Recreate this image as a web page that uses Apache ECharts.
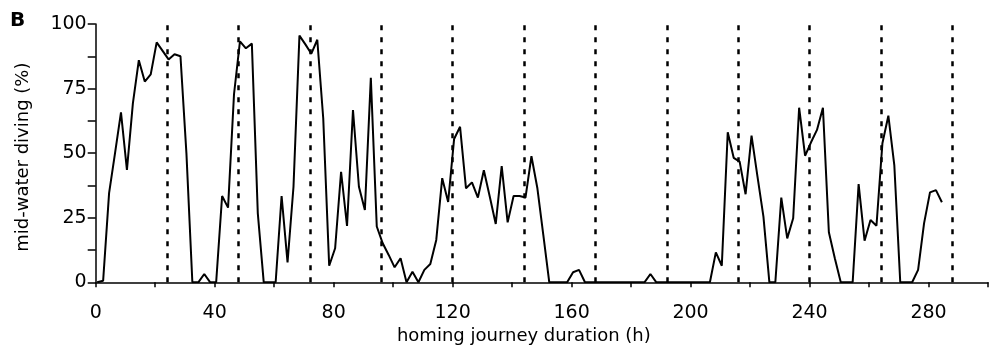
<!DOCTYPE html>
<html>
<head>
<meta charset="utf-8">
<script src="https://cdn.jsdelivr.net/npm/echarts@6/dist/echarts.min.js"></script>
<style>
html,body{margin:0;padding:0;background:#fff;}
#chart{width:991px;height:355px;}
</style>
</head>
<body>
<div id="chart"></div>
<script>
// Hours (bin midpoints) of the homing journey
var hours = [
  0.5, 2.5, 4.5, 6.5, 8.5, 10.5, 12.5, 14.5, 16.5, 18.5,
  20.5, 22.5, 24.5, 26.5, 28.5, 30.5, 32.5, 34.5, 36.5, 38.5,
  40.5, 42.5, 44.5, 46.5, 48.5, 50.5, 52.5, 54.5, 56.5, 58.5,
  60.5, 62.5, 64.5, 66.5, 68.5, 70.5, 72.5, 74.5, 76.5, 78.5,
  80.5, 82.5, 84.5, 86.5, 88.5, 90.5, 92.5, 94.5, 96.5, 98.5,
  100.5, 102.5, 104.5, 106.5, 108.5, 110.5, 112.5, 114.5, 116.5, 118.5,
  120.5, 122.5, 124.5, 126.5, 128.5, 130.5, 132.5, 134.5, 136.5, 138.5,
  140.5, 142.5, 144.5, 146.5, 148.5, 150.5, 152.5, 154.5, 156.5, 158.5,
  160.5, 162.5, 164.5, 166.5, 168.5, 170.5, 172.5, 174.5, 176.5, 178.5,
  180.5, 182.5, 184.5, 186.5, 188.5, 190.5, 192.5, 194.5, 196.5, 198.5,
  200.5, 202.5, 204.5, 206.5, 208.5, 210.5, 212.5, 214.5, 216.5, 218.5,
  220.5, 222.5, 224.5, 226.5, 228.5, 230.5, 232.5, 234.5, 236.5, 238.5,
  240.5, 242.5, 244.5, 246.5, 248.5, 250.5, 252.5, 254.5, 256.5, 258.5,
  260.5, 262.5, 264.5, 266.5, 268.5, 270.5, 272.5, 274.5, 276.5, 278.5,
  280.5, 282.5, 284.5
];
// Mid-water diving (%)
var diving = [
  0, 0.6, 34.5, 50, 65.8, 43.5, 69.3, 86, 77.7, 80.5,
  92.9, 89.6, 86.3, 88.3, 87.5, 50, 0, 0, 3.2, 0,
  0, 33.4, 28.9, 72.8, 93.3, 90.6, 92.4, 26.7, 0, 0,
  0, 33.4, 7.7, 37, 95.5, 92.1, 88.5, 93.9, 63.5, 6.4,
  13.2, 42.8, 21.8, 66.7, 37, 28, 79.2, 21.6, 15.1, 10.6,
  5.8, 9.3, 0, 4.1, 0, 4.8, 7.1, 16.4, 40.3, 31.1,
  55.5, 60.2, 36.4, 38.7, 32.8, 43.4, 33.1, 22.6, 45, 23.2,
  33.4, 33.4, 32.8, 48.8, 36.4, 18.3, 0, 0, 0, 0,
  3.9, 4.8, 0, 0, 0, 0, 0, 0, 0, 0,
  0, 0, 0, 3.2, 0, 0, 0, 0, 0, 0,
  0, 0, 0, 0, 11.6, 6.4, 58.1, 48.2, 46.7, 34.1,
  56.8, 40.9, 25.4, 0, 0, 32.8, 17, 24.8, 67.6, 49,
  54.2, 59, 67.6, 19.4, 9.3, 0, 0, 0, 38, 16.1,
  24.1, 21.9, 53.8, 64.5, 45.4, 0, 0, 0, 4.8, 22.8,
  34.8, 35.7, 31
];
// Day boundaries (dotted verticals)
var dayMarks = [24, 48, 72, 96, 120, 144, 168, 192, 216, 240, 264, 288];
// Tick labels
var xLabelStep = 40;
var yLabelStep = 25;

var FONT = "'DejaVu Sans', sans-serif";
var pts = hours.map(function (h, i) { return [h, diving[i]]; });

var chart = echarts.init(document.getElementById('chart'), null, {renderer: 'canvas'});
chart.setOption({
  animation: false,
  backgroundColor: '#fff',
  grid: {left: 95.7, right: 1.3, top: 24, bottom: 72.7, containLabel: false},
  graphic: [{
    type: 'text', left: 10, top: 11,
    style: {text: 'B', font: "bold 20px 'DejaVu Sans', sans-serif", fill: '#000'}
  }],
  xAxis: {
    type: 'value', min: 0, max: 300, interval: 20,
    name: 'homing journey duration (h)', nameLocation: 'middle', nameGap: 45,
    nameTextStyle: {fontFamily: FONT, fontSize: 18, color: '#000', padding: [0, 36, 0, 0]},
    axisLine: {show: true, onZero: false, lineStyle: {color: '#000', width: 1.5}},
    axisTick: {show: true, inside: false, length: 5, lineStyle: {color: '#000', width: 1.5}},
    axisLabel: {
      margin: 21, fontFamily: FONT, fontSize: 19, color: '#000',
      formatter: function (v) { return v % xLabelStep === 0 ? String(v) : ''; }
    },
    splitLine: {show: false}
  },
  yAxis: {
    type: 'value', min: 0, max: 100, interval: 12.5,
    name: 'mid-water diving (%)', nameLocation: 'middle', nameGap: 63, nameRotate: 90,
    nameTextStyle: {fontFamily: FONT, fontSize: 18, color: '#000', padding: [0, 8, 0, 0]},
    axisLine: {show: true, lineStyle: {color: '#000', width: 1.5}},
    axisTick: {show: true, inside: false, length: 8, lineStyle: {color: '#000', width: 1.5}},
    axisLabel: {
      margin: 9, fontFamily: FONT, fontSize: 19, color: '#000',
      formatter: function (v) { return v % yLabelStep === 0 ? String(v) : ''; }
    },
    splitLine: {show: false}
  },
  series: [{
    type: 'line',
    data: pts,
    showSymbol: false,
    symbol: 'none',
    smooth: false,
    lineStyle: {color: '#000', width: 2},
    z: 3,
    markLine: {
      silent: true,
      symbol: ['none', 'none'],
      label: {show: false},
      lineStyle: {color: '#000', width: 2.5, type: [5, 7]},
      data: dayMarks.map(function (d) { return {xAxis: d}; })
    }
  }]
});
</script>
</body>
</html>
